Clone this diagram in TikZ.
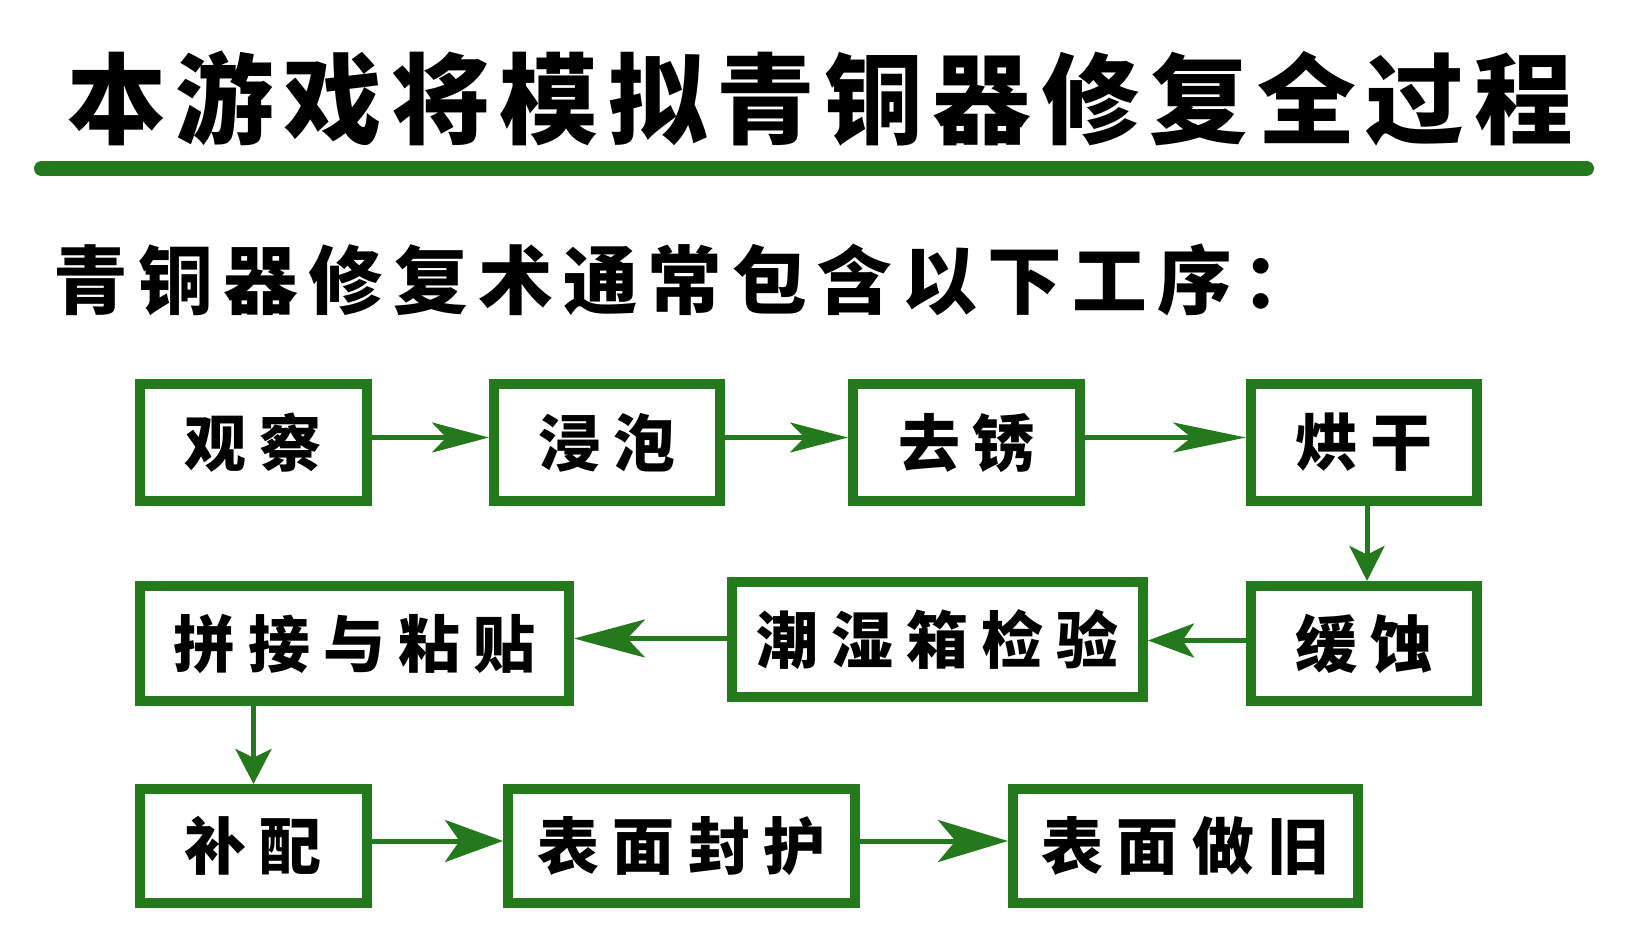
\documentclass[tikz,border=0pt]{standalone}
\usepackage{fontspec}
\newfontfamily\cjk{Noto Sans CJK SC}
\usetikzlibrary{arrows.meta}
\definecolor{bgreen}{HTML}{25791D}
\begin{document}
\begin{tikzpicture}[x=0.75pt,y=-0.75pt,
  box/.style={draw=bgreen, line width=7.5pt, fill=white, inner sep=0pt,
    font=\cjk\bfseries\fontsize{46.5pt}{50pt}\selectfont\addfontfeature{LetterSpace=21}, text=black},
  flow/.style n args={3}{draw=bgreen, line width=3.75pt,
    -{Stealth[length=#1pt,width=#2pt,inset=#3pt]}}]
\useasboundingbox (0,0) rectangle (1628,946);
\fill[white] (0,0) rectangle (1628,946);
% title
\node[font=\cjk\bfseries\fontsize{74pt}{78pt}\selectfont\addfontfeature{LetterSpace=9.7}, inner sep=0pt] (title) at (820,99) {本游戏将模拟青铜器修复全过程};
\coordinate (ruleL) at (41.5,168.5);
\coordinate (ruleR) at (1586.5,168.5);
\draw[bgreen, line width=11.25pt, line cap=round] (ruleL) -- (ruleR);
% subtitle
\node[font=\cjk\bfseries\fontsize{56pt}{60pt}\selectfont\addfontfeature{LetterSpace=13.8}, inner sep=0pt, anchor=west] (sub) at (53,280) {青铜器修复术通常包含以下工序：};
% row 1
\node[box, minimum width=227*0.75pt, minimum height=117*0.75pt] (n1) at (253.5,442.5) {观察};
\node[box, minimum width=226*0.75pt, minimum height=117*0.75pt] (n2) at (607,442.5) {浸泡};
\node[box, minimum width=227*0.75pt, minimum height=117*0.75pt] (n3) at (966.5,442.5) {去锈};
\node[box, minimum width=226*0.75pt, minimum height=117*0.75pt] (n4) at (1364,442.5) {烘干};
% row 2
\node[box, minimum width=429*0.75pt, minimum height=115*0.75pt] (n5) at (354.5,643.5) {拼接与粘贴};
\node[box, minimum width=411*0.75pt, minimum height=115*0.75pt] (n6) at (937.5,639.5) {潮湿箱检验};
\node[box, minimum width=226*0.75pt, minimum height=115*0.75pt] (n7) at (1364,643.5) {缓蚀};
% row 3
\node[box, minimum width=227*0.75pt, minimum height=114*0.75pt] (n8) at (253.5,846) {补配};
\node[box, minimum width=347*0.75pt, minimum height=114*0.75pt] (n9) at (681.5,846) {表面封护};
\node[box, minimum width=345*0.75pt, minimum height=114*0.75pt] (n10) at (1185.5,846) {表面做旧};
% connectors
\draw[flow={42.75}{22.5}{10.7}] ([yshift=3.75pt]n1.east) -- ([yshift=3.75pt]n2.west);
\draw[flow={43.5}{22.5}{10.9}] ([yshift=3.75pt]n2.east) -- ([yshift=3.75pt]n3.west);
\draw[flow={54.75}{22.5}{13.7}] ([yshift=3.75pt]n3.east) -- ([yshift=3.75pt]n4.west);
\draw[flow={26.25}{26.25}{6.5}] ([xshift=2.25pt]n4.south) -- ([xshift=2.25pt]n7.north);
\draw[flow={34.5}{25.5}{8.6}] ([yshift=2.25pt]n7.west) -- ([yshift=2.25pt]n7.west -| n6.east);
\draw[flow={53.25}{28.5}{13.3}] ([yshift=0.75pt]n6.west) -- ([yshift=0.75pt]n6.west -| n5.east);
\draw[flow={26.25}{27}{6.5}] (n5.south -| n8) -- (n8.north);
\draw[flow={43.5}{31.5}{10.9}] ([yshift=3.75pt]n8.east) -- ([yshift=3.75pt]n9.west);
\draw[flow={52.5}{31.5}{13.1}] ([yshift=3.75pt]n9.east) -- ([yshift=3.75pt]n10.west);
\end{tikzpicture}
\end{document}
